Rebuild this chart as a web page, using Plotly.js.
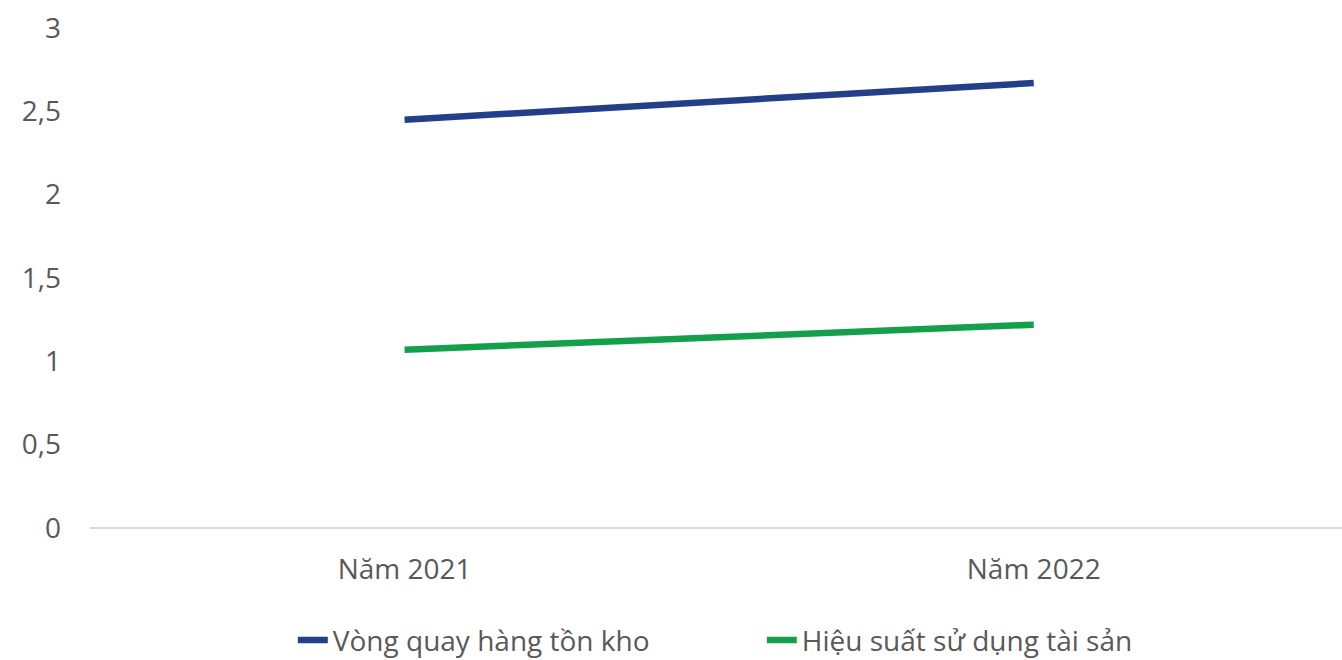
<!DOCTYPE html>
<html>
<head>
<meta charset="utf-8">
<script src="https://cdn.plot.ly/plotly-3.0.1.min.js"></script>
<style>html,body{margin:0;padding:0;background:#fff;}#chart{width:1342px;height:660px;}</style>
</head>
<body>
<div id="chart"></div>
<script>
const categories = ["Năm 2021", "Năm 2022"];
const inventoryTurnover = [2.45, 2.67];
const assetTurnover = [1.07, 1.22];
const seriesNames = ["Vòng quay hàng tồn kho", "Hiệu suất sử dụng tài sản"];
const yTickVals = [0, 0.5, 1, 1.5, 2, 2.5, 3];
const yTickText = ["0", "0,5", "1", "1,5", "2", "2,5", "3"];

const traces = [
  {x: categories, y: inventoryTurnover, name: seriesNames[0], type: "scatter", mode: "lines",
   line: {color: "#233F88", width: 6.5}},
  {x: categories, y: assetTurnover, name: seriesNames[1], type: "scatter", mode: "lines",
   line: {color: "#14A04A", width: 6.5}}
];

const layout = {
  width: 1342, height: 660,
  margin: {l: 90, r: 0, t: 28, b: 132, autoexpand: false},
  paper_bgcolor: "#fff", plot_bgcolor: "#fff",
  font: {family: "'Open Sans', sans-serif", color: "#595959", size: 28},
  showlegend: true,
  legend: {orientation: "h", x: 0.162, xanchor: "left", yref: "container", y: 0.03, yanchor: "middle",
           entrywidth: 424, entrywidthmode: "pixels",
           font: {size: 28, color: "#595959"}},
  xaxis: {type: "category", range: [-0.5, 1.49], showgrid: false, zeroline: false, automargin: false,
          showline: false, ticks: "", ticklabelstandoff: 22, tickfont: {size: 28, color: "#595959"}},
  yaxis: {range: [0, 3], tickvals: yTickVals, ticktext: yTickText, showgrid: false, automargin: false,
          zeroline: true, zerolinecolor: "#d9d9d9", zerolinewidth: 2, showline: false,
          ticks: "", ticklabelstandoff: 28, tickfont: {size: 28, color: "#595959"}}
};

Plotly.newPlot("chart", traces, layout, {displayModeBar: false, staticPlot: true});
</script>
</body>
</html>
